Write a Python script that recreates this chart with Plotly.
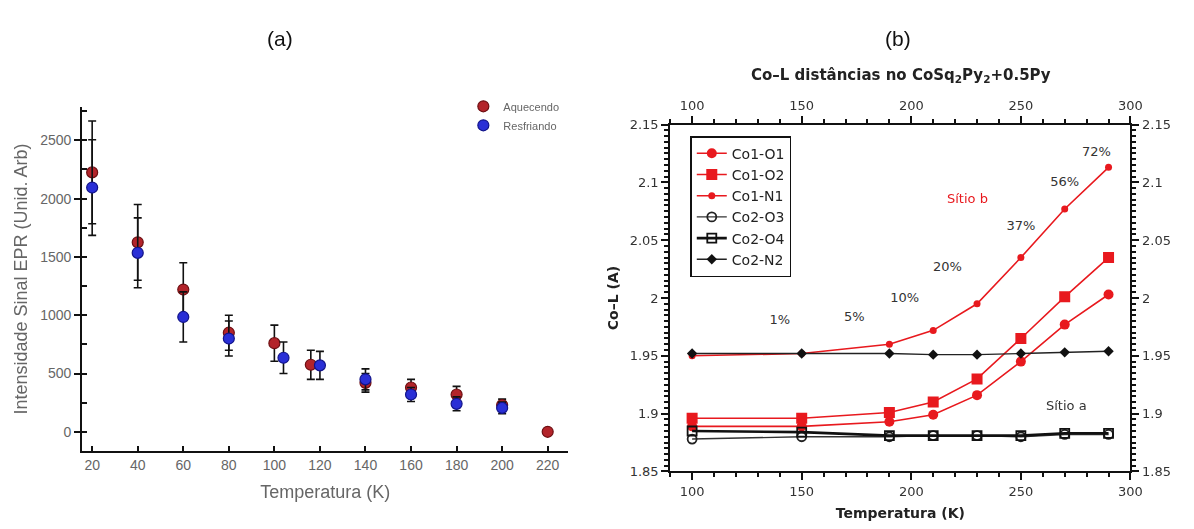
import plotly.graph_objects as go

# ---------------- (a) EPR signal intensity vs temperature ----------------
temp_heat = [20, 40, 60, 80, 100, 116, 140, 160, 180, 200, 220]
epr_heat = [2225, 1625, 1220, 850, 760, 575, 420, 380, 320, 230, 0]
err_heat = [440, 325, 230, 150, 155, 125, 80, 70, 70, 50, 0]

temp_cool = [20, 40, 60, 80, 104, 120, 140, 160, 180, 200]
epr_cool = [2095, 1535, 985, 800, 635, 570, 450, 320, 240, 205]
err_cool = [410, 300, 215, 150, 135, 120, 90, 60, 60, 50]

# ---------------- (b) Co-L bond distances vs temperature ----------------
temp_b = [100, 150, 190, 210, 230, 250, 270, 290]
co1_o1 = [1.889, 1.889, 1.893, 1.899, 1.916, 1.945, 1.977, 2.003]
co1_o2 = [1.896, 1.896, 1.901, 1.910, 1.930, 1.965, 2.001, 2.035]
co1_n1 = [1.950, 1.952, 1.960, 1.972, 1.995, 2.035, 2.077, 2.113]
co2_o3 = [1.878, 1.880, 1.880, 1.881, 1.881, 1.880, 1.882, 1.882]
co2_o4 = [1.885, 1.884, 1.881, 1.881, 1.881, 1.881, 1.883, 1.883]
co2_n2 = [1.952, 1.952, 1.952, 1.951, 1.951, 1.952, 1.953, 1.954]

pct_labels = ["1%", "5%", "10%", "20%", "37%", "56%", "72%"]
pct_x = [140, 174, 197, 216.5, 250, 270, 284.5]
pct_y = [1.980, 1.983, 1.999, 2.026, 2.062, 2.100, 2.126]

GRAY = "#666666"
RED = "#e8191e"
SANS = "Liberation Sans, Arial, sans-serif"
HUM = "DejaVu Sans, Verdana, sans-serif"

fig = go.Figure()

# panel (a)
fig.add_trace(go.Scatter(
    x=temp_heat, y=epr_heat, name="Aquecendo", mode="markers",
    error_y=dict(type="data", array=err_heat, color="#111111", thickness=1.6, width=4),
    marker=dict(size=11, color="#b3242a", line=dict(color="#6e0f12", width=1.2)),
    xaxis="x", yaxis="y", legend="legend"))
fig.add_trace(go.Scatter(
    x=temp_cool, y=epr_cool, name="Resfriando", mode="markers",
    error_y=dict(type="data", array=err_cool, color="#111111", thickness=1.6, width=4),
    marker=dict(size=11, color="#2a2fd6", line=dict(color="#12148a", width=1.2)),
    xaxis="x", yaxis="y", legend="legend"))

# panel (b)
series_b = [
    ("Co1-O1", co1_o1, dict(symbol="circle", size=10, color=RED), dict(color=RED, width=1.6)),
    ("Co1-O2", co1_o2, dict(symbol="square", size=11, color=RED), dict(color=RED, width=1.6)),
    ("Co1-N1", co1_n1, dict(symbol="circle", size=7, color=RED), dict(color=RED, width=1.6)),
    ("Co2-O3", co2_o3, dict(symbol="circle-open", size=9, color="#222222", line=dict(width=1.8)),
     dict(color="#333333", width=1.4)),
    ("Co2-O4", co2_o4, dict(symbol="square-open", size=9, color="#111111", line=dict(width=1.8)),
     dict(color="#111111", width=2.6)),
    ("Co2-N2", co2_n2, dict(symbol="diamond", size=8, color="#111111"), dict(color="#222222", width=1.4)),
]
for name, vals, mk, ln in series_b:
    fig.add_trace(go.Scatter(x=temp_b, y=vals, name=name, mode="lines+markers",
                             marker=mk, line=ln, xaxis="x2", yaxis="y2", legend="legend2"))

# invisible trace carrying the mirrored top/right axes
fig.add_trace(go.Scatter(x=temp_b, y=co1_o1, mode="markers", opacity=0, showlegend=False,
                         hoverinfo="skip", xaxis="x3", yaxis="y3"))

# percentage labels along Co1-N1
fig.add_trace(go.Scatter(x=pct_x, y=pct_y, text=pct_labels, mode="text", showlegend=False,
                         textfont=dict(family=HUM, size=13, color="#333333"),
                         xaxis="x2", yaxis="y2", hoverinfo="skip"))

axis_a = dict(showline=True, linecolor="#111111", linewidth=2, showgrid=False, zeroline=False,
              tickfont=dict(family=SANS, size=14, color=GRAY), tickcolor="#111111")

axis_b = dict(showline=True, linecolor="#111111", linewidth=2, showgrid=False, zeroline=False,
              tickfont=dict(family=HUM, size=13, color="#333333"), tickcolor="#111111",
              ticks="outside", ticklen=7, tickwidth=1.5)

ytick_b = [1.85, 1.9, 1.95, 2.0, 2.05, 2.1, 2.15]
ytext_b = ["1.85", "1.9", "1.95", "2", "2.05", "2.1", "2.15"]
xtick_b = [100, 150, 200, 250, 300]

fig.update_layout(
    width=1194, height=529, margin=dict(l=0, r=0, t=0, b=0),
    paper_bgcolor="white", plot_bgcolor="white", showlegend=True,
    xaxis=dict(axis_a, domain=[0.0695, 0.4807], anchor="y", range=[15.6, 229],
               tickmode="array", tickvals=list(range(20, 221, 20)),
               ticks="inside", ticklen=5, tickwidth=1.5,
               title=dict(text="Temperatura (K)", font=dict(family=SANS, size=18, color=GRAY), standoff=14)),
    yaxis=dict(axis_a, domain=[0.1361, 0.8053], anchor="x", range=[-165, 2785],
               tickvals=[0, 500, 1000, 1500, 2000, 2500],
               ticks="outside", ticklen=6, tickwidth=1.5,
               minor=dict(dtick=250, ticks="inside", ticklen=5, tickwidth=1.5, tickcolor="#111111"),
               title=dict(text="Intensidade Sinal EPR (Unid. Arb)",
                          font=dict(family=SANS, size=18, color=GRAY), standoff=8)),
    xaxis2=dict(axis_b, domain=[0.567, 0.9564], anchor="y2", range=[90, 300],
                tickvals=xtick_b,
                minor=dict(dtick=10, ticks="outside", ticklen=4, tickwidth=1.5, tickcolor="#111111"),
                title=dict(text="<b>Temperatura (K)</b>", font=dict(family=HUM, size=14, color="#222222"),
                           standoff=10)),
    yaxis2=dict(axis_b, domain=[0.0964, 0.7713], anchor="x2", range=[1.85, 2.15],
                tickvals=ytick_b, ticktext=ytext_b,
                minor=dict(dtick=0.005, ticks="outside", ticklen=4, tickwidth=1.5, tickcolor="#111111"),
                title=dict(text="<b>Co–L (A)</b>", font=dict(family=HUM, size=14, color="#222222"),
                           standoff=8)),
    xaxis3=dict(axis_b, domain=[0.567, 0.9564], anchor="y3", overlaying="x2", side="top",
                range=[90, 300], tickvals=xtick_b,
                minor=dict(dtick=10, ticks="outside", ticklen=4, tickwidth=1.5, tickcolor="#111111")),
    yaxis3=dict(axis_b, domain=[0.0964, 0.7713], anchor="x3", overlaying="y2", side="right",
                range=[1.85, 2.15], tickvals=ytick_b, ticktext=ytext_b,
                minor=dict(dtick=0.005, ticks="outside", ticklen=4, tickwidth=1.5, tickcolor="#111111")),
    legend=dict(x=0.392, y=0.835, xanchor="left", yanchor="top", bgcolor="rgba(0,0,0,0)",
                font=dict(family=SANS, size=11, color=GRAY), tracegroupgap=0, itemwidth=30),
    legend2=dict(x=0.584, y=0.7486, xanchor="left", yanchor="top", bgcolor="white",
                 bordercolor="#111111", borderwidth=1.5,
                 font=dict(family=HUM, size=14, color="#222222"), tracegroupgap=0),
    annotations=[
        dict(text="(a)", x=283 / 1194, y=1 - 32 / 529, xref="paper", yref="paper", showarrow=False,
             xanchor="center", yanchor="middle", font=dict(family=SANS, size=21, color="#111111")),
        dict(text="(b)", x=907 / 1194, y=1 - 32 / 529, xref="paper", yref="paper", showarrow=False,
             xanchor="center", yanchor="middle", font=dict(family=SANS, size=21, color="#111111")),
        dict(text="<b>Co–L distâncias no CoSq<sub>2</sub>Py<sub>2</sub>+0.5Py</b>",
             x=910 / 1194, y=1 - 71 / 529, xref="paper", yref="paper", showarrow=False,
             xanchor="center", yanchor="middle", font=dict(family=HUM, size=15, color="#222222")),
        dict(text="Sítio b", x=225.5, y=2.086, xref="x2", yref="y2", showarrow=False,
             xanchor="center", font=dict(family=HUM, size=13, color=RED)),
        dict(text="Sítio a", x=270.7, y=1.907, xref="x2", yref="y2", showarrow=False,
             xanchor="center", font=dict(family=HUM, size=13, color="#333333")),
    ],
)

fig.write_html("out.html")
